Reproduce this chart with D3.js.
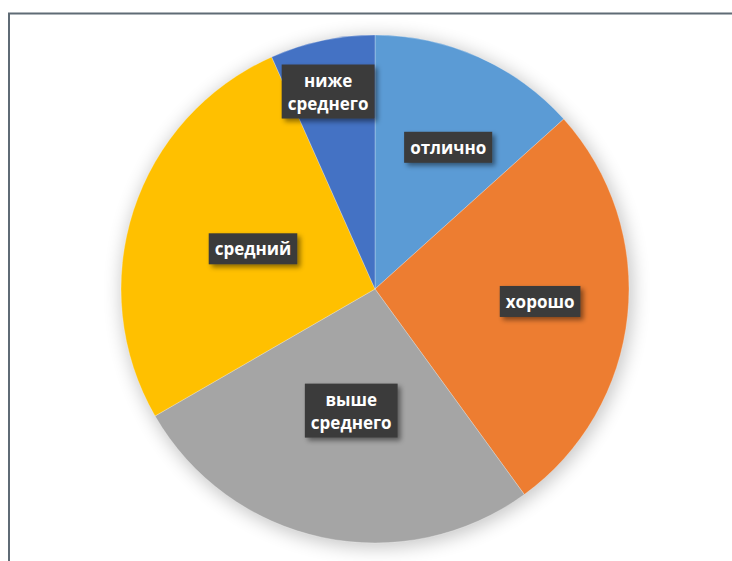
<!DOCTYPE html>
<html>
<head>
<meta charset="utf-8">
<script src="https://cdn.jsdelivr.net/npm/d3@7"></script>
<style>
html,body{margin:0;padding:0;background:#fff;}
svg{display:block;}
</style>
</head>
<body>
<svg id="chart" width="732" height="561"></svg>
<script>
const categories = ["отлично", "хорошо", "выше среднего", "средний", "ниже среднего"];
const values = [2, 4, 4, 4, 1];
const colors = ["#5B9BD5", "#ED7D31", "#A5A5A5", "#FFC000", "#4472C4"];
const labelRadii = [0.626, 0.652, 0.49, 0.505, 0.797];
const labelAngleNudge = [3.4, -1.5, -1, 0, -1.4];

const W = 732, H = 561;
const cx = 375, cy = 289, R = 254;
const svg = d3.select("#chart");

const defs = svg.append("defs");
const blur = defs.append("filter").attr("id","pieShadow").attr("x","-20%").attr("y","-20%").attr("width","140%").attr("height","140%");
blur.append("feGaussianBlur").attr("stdDeviation", 9);
const lblShadow = defs.append("filter").attr("id","lblShadow").attr("x","-30%").attr("y","-30%").attr("width","160%").attr("height","170%");
lblShadow.append("feDropShadow").attr("dx",3).attr("dy",3).attr("stdDeviation",2.5).attr("flood-color","#000").attr("flood-opacity",0.45);

// chart border
svg.append("rect").attr("x", 9).attr("y", 13.5).attr("width", W).attr("height", H)
  .attr("fill", "#fff").attr("stroke", "#5f6b75").attr("stroke-width", 2);

const g = svg.append("g").attr("transform", `translate(${cx},${cy})`);

g.append("circle").attr("r", R + 2).attr("cx", 2).attr("cy", 3)
  .attr("fill", "#000").attr("opacity", 0.22).attr("filter", "url(#pieShadow)");

const pie = d3.pie().sort(null).value(d => d)(values);
const arc = d3.arc().innerRadius(0).outerRadius(R);

g.selectAll("path.slice").data(pie).join("path")
  .attr("class","slice")
  .attr("d", arc)
  .attr("fill", (d,i) => colors[i])
  .attr("stroke", "rgba(255,255,255,0.35)")
  .attr("stroke-width", 0.8);

const fontSize = 17;
const lineH = 23;
const labels = g.selectAll("g.lbl").data(pie).join("g").attr("class","lbl")
  .attr("transform", (d,i) => {
    const mid = (d.startAngle + d.endAngle) / 2 + labelAngleNudge[i] * Math.PI / 180;
    const r = R * labelRadii[i];
    return `translate(${Math.sin(mid) * r},${-Math.cos(mid) * r})`;
  });

labels.each(function(d,i){
  const sel = d3.select(this);
  const words = categories[i].split(" ");
  const n = words.length;
  const rect = sel.append("rect").attr("fill", "#3a3a3a").attr("filter","url(#lblShadow)");
  const txt = sel.append("text")
    .attr("text-anchor","middle")
    .attr("font-family","'Open Sans', 'Noto Sans', sans-serif")
    .attr("font-weight","700")
    .attr("font-size", fontSize)
    .attr("fill","#fff");
  words.forEach((w,k) => {
    txt.append("tspan").attr("x",0).attr("y", (k - (n-1)/2) * lineH + fontSize*0.35).text(w);
  });
  const bb = txt.node().getBBox();
  const padX = 6, padY = 4;
  rect.attr("x", bb.x - padX).attr("y", bb.y - padY)
    .attr("width", bb.width + 2*padX).attr("height", bb.height + 2*padY);
});
</script>
</body>
</html>
